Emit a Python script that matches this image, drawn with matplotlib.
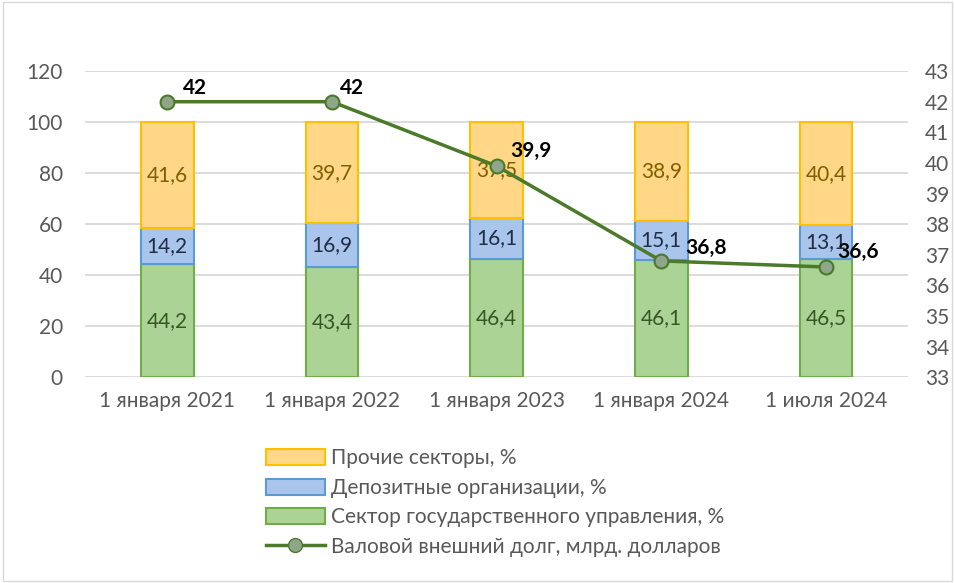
import numpy as np
import matplotlib.pyplot as plt
from matplotlib.patches import Patch, Rectangle
from matplotlib.lines import Line2D

plt.rcParams['font.family'] = ['Lato', 'DejaVu Sans']

categories = ['1 января 2021', '1 января 2022', '1 января 2023', '1 января 2024', '1 июля 2024']
gov = [44.2, 43.4, 46.4, 46.1, 46.5]
dep = [14.2, 16.9, 16.1, 15.1, 13.1]
other = [41.6, 39.7, 37.5, 38.9, 40.4]
debt = [42, 42, 39.9, 36.8, 36.6]

names = ['Прочие секторы, %', 'Депозитные организации, %',
         'Сектор государственного управления, %',
         'Валовой внешний долг, млрд. долларов']

fs = 15
# label offsets for the debt line, in points (right, up)
lab_dx = [11.5, 6, 10, 17.5, 8.5]
lab_dy = [10, 10, 11, 9.5, 10.5]

fig = plt.figure(figsize=(9.55, 5.83), dpi=100)
ax = fig.add_axes([0.089, 0.353, 0.862, 0.525])
ax2 = ax.twinx()

x = np.arange(len(categories))
w = 0.32
gov_c = ('#abd396', '#70ad47', '#375623')
dep_c = ('#a9c5ec', '#5b9bd5', '#1f2d45')
oth_c = ('#ffd786', '#ffc000', '#7f6000')

bottom = np.zeros(len(x))
for vals, (fc, ec, tc) in [(gov, gov_c), (dep, dep_c), (other, oth_c)]:
    ax.bar(x, vals, w, bottom=bottom, color=fc, edgecolor=ec, linewidth=1.5, zorder=2)
    for xi, b, v in zip(x, bottom, vals):
        ax.text(xi, b + v / 2, f'{v:.1f}'.replace('.', ','), ha='center', va='center',
                fontsize=fs, color=tc, zorder=3)
    bottom += np.array(vals)

ax.set_ylim(0, 120)
ax.set_yticks(range(0, 121, 20))
ax.set_xlim(-0.5, len(x) - 0.5)
ax.set_xticks(x)
ax.set_xticklabels(categories)
ax.grid(axis='y', color='#d9d9d9', linewidth=1.3, zorder=0)
ax.set_axisbelow(True)

ax2.plot(x, debt, color='#4a7a2a', linewidth=2.5, marker='o', markersize=10,
         markerfacecolor='#8fa68a', markeredgecolor='#4a7a2a', markeredgewidth=1.5, zorder=5)
for xi, v, dx, dy in zip(x, debt, lab_dx, lab_dy):
    lab = f'{v:.1f}'.replace('.', ',') if v % 1 else f'{int(v)}'
    ax2.annotate(lab, (xi, v), xytext=(dx, dy), textcoords='offset points',
                 ha='left', va='center', fontsize=fs, fontweight='bold', color='black', zorder=6)
ax2.set_ylim(33, 43)
ax2.set_yticks(range(33, 44))

for a in (ax, ax2):
    for s in a.spines.values():
        s.set_visible(False)
    a.tick_params(length=0, labelsize=fs, labelcolor='#595959')
ax.tick_params(axis='x', pad=10)
ax.tick_params(axis='y', pad=16)
ax2.tick_params(axis='y', pad=12)

handles = [Patch(facecolor=oth_c[0], edgecolor=oth_c[1], linewidth=1.5),
           Patch(facecolor=dep_c[0], edgecolor=dep_c[1], linewidth=1.5),
           Patch(facecolor=gov_c[0], edgecolor=gov_c[1], linewidth=1.5),
           Line2D([], [], color='#4a7a2a', linewidth=2.5, marker='o', markersize=10,
                  markerfacecolor='#8fa68a', markeredgecolor='#4a7a2a')]
leg = fig.legend(handles, names, loc='upper left', bbox_to_anchor=(0.27, 0.245),
                 frameon=False, fontsize=fs, labelcolor='#595959', handlelength=2.8,
                 handleheight=0.8, handletextpad=0.3, labelspacing=0.45, borderaxespad=0)

fig.patches.append(Rectangle((0.003, 0.003), 0.994, 0.994, transform=fig.transFigure,
                             fill=False, edgecolor='#d9d9d9', linewidth=1))

fig.savefig('out.png', dpi=100)
